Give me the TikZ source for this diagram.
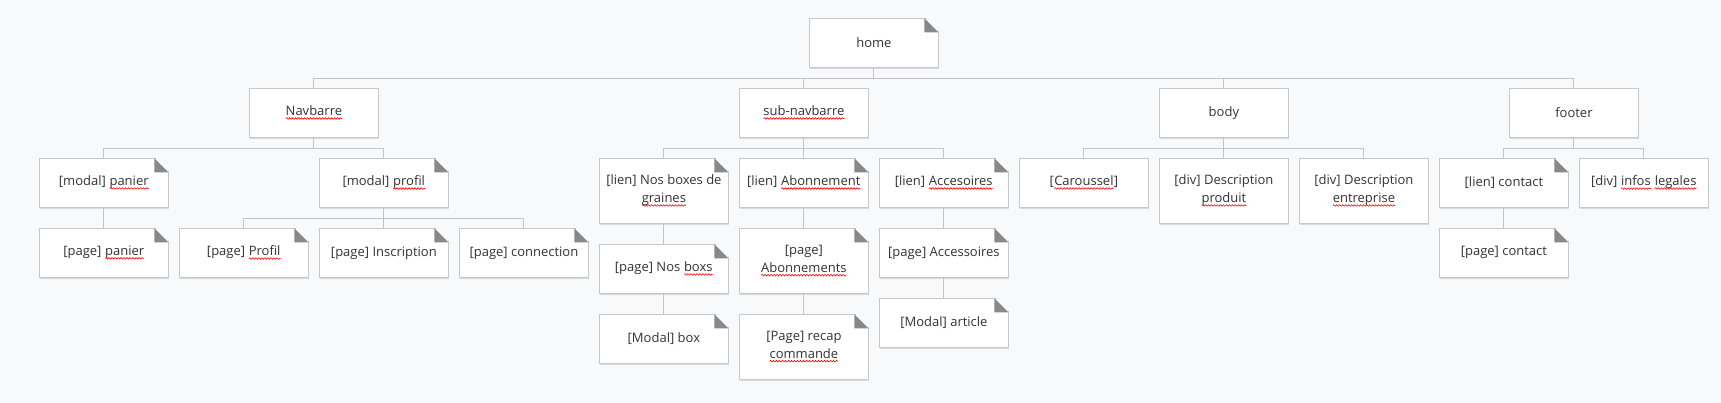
\documentclass[tikz,border=0pt]{standalone}
\usepackage{fontspec}
\setmainfont{Open Sans}
\usetikzlibrary{positioning,calc,shadows,decorations.pathmorphing}
\definecolor{bgcol}{HTML}{F8F9FB}
\definecolor{boxline}{HTML}{C8C8C8}
\definecolor{wirecol}{HTML}{C4C4C4}
\definecolor{foldcol}{HTML}{888888}
\definecolor{txt}{HTML}{333333}
% red wavy mark under a word
\newcommand\spell[1]{\tikz[baseline=(w.base)]{%
  \node[inner sep=0pt, outer sep=0pt, minimum size=0pt, text=txt] (w) {#1};
  \draw[red, line width=0.6pt, decorate, decoration={snake, amplitude=0.8pt, segment length=3pt}]
    ([yshift=-2.6pt]w.base west) -- ([yshift=-2.6pt]w.base east);}}

\begin{document}
\begin{tikzpicture}[x=1pt, y=1pt, node distance=21pt]
% Styles:
\tikzset{%
  box/.style  = {draw=boxline, line width=1pt, fill=white, rectangle, minimum width=129pt, minimum height=49pt,
                 inner sep=2pt, outer sep=0pt, align=center, text=txt, font=\fontsize{13}{18}\selectfont,
                 drop shadow={shadow xshift=0.5pt, shadow yshift=-1.5pt, opacity=0.12, fill=black}},
  note/.style = {box}, % folded corner added below
  tall/.style = {minimum height=65pt},
  wire/.style = {draw=wirecol, line width=1pt}
}
\fill[bgcol] (0,0) rectangle (1721,-403);
\draw
	node [note, anchor=north west] (mpanier) at (39.4,-158.3) {[modal] \spell{panier}}
	node [note, right=151pt of mpanier.north east, anchor=north west] (mprofil) {[modal] \spell{profil}}
	node [note, tall, right=151pt of mprofil.north east, anchor=north west] (lboxes) {[lien] Nos boxes de\\\spell{graines}}
	node [note, right=11pt of lboxes.north east, anchor=north west] (labo) {[lien] \spell{Abonnement}}
	node [note, right=11pt of labo.north east, anchor=north west] (lacc) {[lien] \spell{Accesoires}}
	node [box, right=11pt of lacc.north east, anchor=north west] (carou) {[\spell{Caroussel}]}
	node [box, tall, right=11pt of carou.north east, anchor=north west] (dprod) {[div] Description\\\spell{produit}}
	node [box, tall, right=11pt of dprod.north east, anchor=north west] (dentr) {[div] Description\\\spell{entreprise}}
	node [note, right=11pt of dentr.north east, anchor=north west] (lcontact) {[lien] contact}
	node [box, right=11pt of lcontact.north east, anchor=north west] (dinfos) {[div] \spell{infos} \spell{legales}}
	node [note, below=of mpanier] (ppanier) {[page] \spell{panier}}
	node [note, below=of mprofil] (pinscr) {[page] Inscription}
	node [note, left=11pt of pinscr] (pprofil) {[page] \spell{Profil}}
	node [note, right=11pt of pinscr] (pconn) {[page] connection}
	node [note, below=of lboxes] (pboxs) {[page] Nos \spell{boxs}}
	node [note, tall, below=of labo] (pabos) {[page]\\\spell{Abonnements}}
	node [note, below=of lacc] (paccs) {[page] Accessoires}
	node [note, below=of lcontact] (pcontact) {[page] contact}
	node [note, below=of pboxs] (mbox) {[Modal] box}
	node [note, tall, below=of pabos] (precap) {[Page] recap\\\spell{commande}}
	node [note, below=of paccs] (marticle) {[Modal] article}
	node [box, above=of mprofil, xshift=-70pt] (nav) {\spell{Navbarre}}
	node [box, above=of labo] (subnav) {\spell{sub-navbarre}}
	node [box, above=of dprod] (body) {body}
	node [box, above=of lcontact, xshift=70pt] (footer) {footer}
	node [note, above=of subnav, xshift=70pt] (home) {home};

	\foreach \c in {nav,subnav,body,footer}
		\draw[wire] (home.south) -- ++(0,-11) -| (\c.north);
	\foreach \c in {mpanier,mprofil}
		\draw[wire] (nav.south) -- ++(0,-11) -| (\c.north);
	\foreach \c in {pprofil,pinscr,pconn}
		\draw[wire] (mprofil.south) -- ++(0,-11) -| (\c.north);
	\foreach \c in {lboxes,labo,lacc}
		\draw[wire] (subnav.south) -- ++(0,-11) -| (\c.north);
	\foreach \c in {carou,dprod,dentr}
		\draw[wire] (body.south) -- ++(0,-11) -| (\c.north);
	\foreach \c in {lcontact,dinfos}
		\draw[wire] (footer.south) -- ++(0,-11) -| (\c.north);
	\draw[wire] (mpanier) -- (ppanier);
	\draw[wire] (lboxes) -- (pboxs);
	\draw[wire] (pboxs) -- (mbox);
	\draw[wire] (labo) -- (pabos);
	\draw[wire] (pabos) -- (precap);
	\draw[wire] (lacc) -- (paccs);
	\draw[wire] (paccs) -- (marticle);
	\draw[wire] (lcontact) -- (pcontact);
	% folded corners
	\foreach \n in {home,mpanier,mprofil,ppanier,pprofil,pinscr,pconn,lboxes,labo,lacc,pboxs,pabos,paccs,mbox,precap,marticle,lcontact,pcontact} {
		\fill[bgcol] ([shift={(-14,1.5)}]\n.north east) -- ([shift={(1.5,1.5)}]\n.north east) -- ([shift={(1.5,-14)}]\n.north east) -- cycle;
		\fill[foldcol] ([xshift=-14pt]\n.north east) -- ([yshift=-14pt]\n.north east) -- ([shift={(-14,-14)}]\n.north east) -- cycle;
	}
\end{tikzpicture}
\end{document}
